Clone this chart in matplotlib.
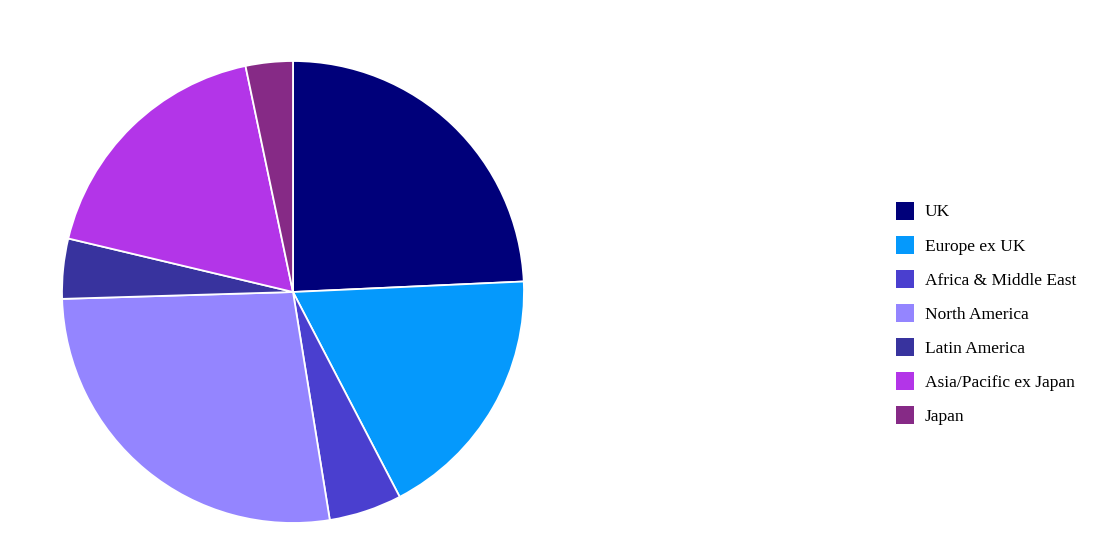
import matplotlib
matplotlib.use("Agg")
import matplotlib.pyplot as plt

# data
regions = ["UK", "Europe ex UK", "Africa & Middle East", "North America",
           "Latin America", "Asia/Pacific ex Japan", "Japan"]
weights = [24.3, 18.1, 5.1, 27.1, 4.2, 18.0, 3.3]
colors = ["#00007a", "#0599fc", "#4a3fcf", "#9485ff",
          "#38339e", "#b335e8", "#862a86"]

W, H = 1105, 543
fig = plt.figure(figsize=(W / 100, H / 100), dpi=100)

# pie: centre (293,292), radius 231 px
ax = fig.add_axes([62 / W, (H - 523) / H, 462 / W, 462 / H])
wedges, _ = ax.pie(weights, colors=colors, startangle=90, counterclock=False,
                   wedgeprops=dict(edgecolor="white", linewidth=1.3))
ax.set_xlim(-1, 1)
ax.set_ylim(-1, 1)
ax.set_aspect("equal")

leg = fig.legend(wedges, regions, loc="upper left",
                 bbox_to_anchor=(880 / W, 1 - 186 / H),
                 frameon=False, handlelength=1.03, handleheight=1.21,
                 handletextpad=0.65, labelspacing=0.88,
                 prop=dict(family="Liberation Serif", size=12.5))
for h in leg.legend_handles:
    h.set_edgecolor("none")

fig.savefig("out.png", dpi=100)
